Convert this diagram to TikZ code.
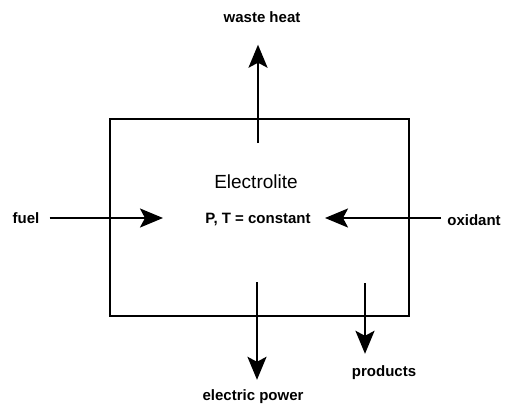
\documentclass[tikz,border=0pt]{standalone}
\usepackage{fontspec}
\setmainfont{Liberation Sans}
\usetikzlibrary{arrows.meta}
\begin{document}
\begin{tikzpicture}
[x=1pt,y=-1pt,
cellBox/.style={line width=1.8pt},
flow/.style={line width=2.4pt,-{Stealth[length=23pt,width=19pt,inset=5pt]}},
flowLabel/.style={font=\bfseries\fontsize{15}{17}\selectfont,inner sep=0pt},
cellLabel/.style={font=\fontsize{19}{22}\selectfont,inner sep=0pt}]
\useasboundingbox (0,0) rectangle (505,407);
\draw[cellBox] (110,119) rectangle (409,316);
\node[cellLabel] (electrolite) at (256,182) {Electrolite};
\node[flowLabel] (state) at (258,219) {P, T = constant};
\node[flowLabel] (fuel) at (26,218) {fuel};
\node[flowLabel] (oxidant) at (474,220) {oxidant};
\node[flowLabel] (heat) at (262,17) {waste heat};
\node[flowLabel] (power) at (253,397) {electric power};
\node[flowLabel] (products) at (384,373) {products};
\coordinate (heatStart) at (258,143);
\coordinate (fuelEnd) at (163,218);
\coordinate (oxidantEnd) at (325,218);
\coordinate (powerStart) at (257,282);
\coordinate (productsStart) at (365,283);
\draw[flow,shorten >=22pt] (heatStart) -- (heatStart |- heat.south);
\draw[flow] ([xshift=10pt]fuel.east |- fuelEnd) -- (fuelEnd);
\draw[flow] ([xshift=-6pt]oxidant.west |- oxidantEnd) -- (oxidantEnd);
\draw[flow,shorten >=10pt] (powerStart) -- (powerStart |- power.north);
\draw[flow,shorten >=12pt] (productsStart) -- (productsStart |- products.north);
\end{tikzpicture}
\end{document}
